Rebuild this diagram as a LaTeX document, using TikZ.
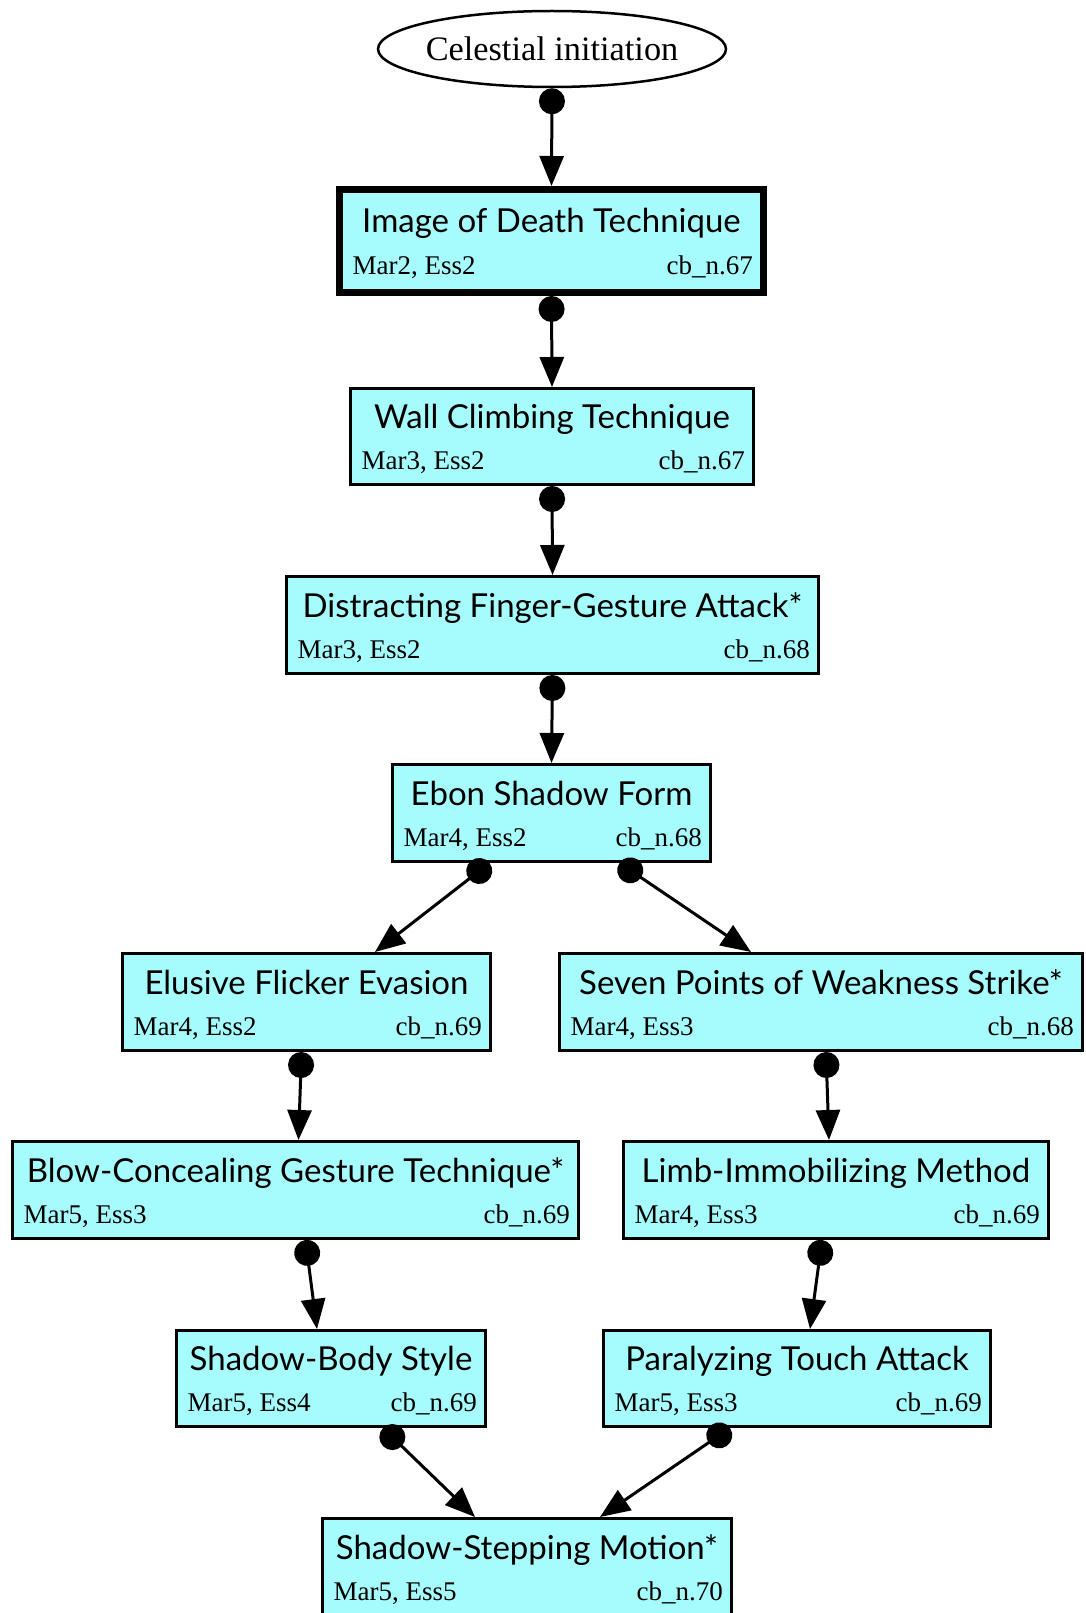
\documentclass[tikz,border=0pt]{standalone}
\usepackage{fontspec}
\setmainfont{Liberation Serif}
\newfontfamily\titlefont{Lato}
\usetikzlibrary{arrows.meta,shapes.geometric}
\definecolor{boxfill}{RGB}{166,252,252}

\tikzset{
  techframe/.style={draw=black, fill=boxfill, rectangle, inner sep=0pt},
  titletext/.style={inner sep=0pt, font=\titlefont\fontsize{33}{37}\selectfont},
  subtext/.style={inner sep=0pt, font=\fontsize{27}{31}\selectfont},
  starttext/.style={draw=black, line width=2.5pt, ellipse, inner xsep=-60pt,
    inner ysep=0pt, minimum width=348pt, minimum height=76pt,
    font=\fontsize{34.3}{39}\selectfont},
  link/.style={line width=3pt,
    {Circle[length=26pt]}-{Triangle[length=30pt,width=24pt]}}
}

% #1 border width, #2 name, #3-#6 corners (x1,y1,x2,y2), #7 title, #8 left, #9 right
\newcommand{\techbox}[9]{%
  \node[techframe, line width=#1pt,
        minimum width={(#5-#3-#1)*1pt}, minimum height={(#6-#4-#1)*1pt}]
        (#2) at ({(#3+#5)/2},{(#4+#6)/2}) {};
  \node[titletext, anchor=base] (#2-t) at ({(#3+#5)/2},{(#4+#6)/2-8}) {#7};
  \node[subtext, anchor=base west] (#2-l) at ({#3+9.5+#1},{(#4+#6)/2+33}) {#8};
  \node[subtext, anchor=base east] (#2-r) at ({#5-7-#1},{(#4+#6)/2+33}) {#9};
}

\begin{document}
\begin{tikzpicture}[x=1pt,y=-1pt]
\useasboundingbox (0,0) rectangle (1086,1613);

\node[starttext] (init) at (552,49) {Celestial initiation};

\techbox{7}{img}{336}{186}{767}{296}{Image of Death Technique}{Mar2, Ess2}{cb\_n.67}
\techbox{3}{wall}{349}{387}{755}{486}{Wall Climbing Technique}{Mar3, Ess2}{cb\_n.67}
\techbox{3}{dist}{285}{575}{820}{675}{Distracting Finger-Gesture Attack*}{Mar3, Ess2}{cb\_n.68}
\techbox{3}{ebon}{391}{763}{712}{863}{Ebon Shadow Form}{Mar4, Ess2}{cb\_n.68}
\techbox{3}{elusive}{121}{952}{492}{1052}{Elusive Flicker Evasion}{Mar4, Ess2}{cb\_n.69}
\techbox{3}{seven}{558}{952}{1084}{1052}{Seven Points of Weakness Strike*}{Mar4, Ess3}{cb\_n.68}
\techbox{3}{blow}{11}{1140}{580}{1240}{Blow-Concealing Gesture Technique*}{Mar5, Ess3}{cb\_n.69}
\techbox{3}{limb}{622}{1140}{1050}{1240}{Limb-Immobilizing Method}{Mar4, Ess3}{cb\_n.69}
\techbox{3}{sbody}{175}{1329}{487}{1428}{Shadow-Body Style}{Mar5, Ess4}{cb\_n.69}
\techbox{3}{para}{602}{1329}{992}{1428}{Paralyzing Touch Attack}{Mar5, Ess3}{cb\_n.69}
\techbox{3}{step}{321}{1517}{733}{1617}{Shadow-Stepping Motion*}{Mar5, Ess5}{cb\_n.70}

\draw[link] (init.south) -- (img.north);
\draw[link] (img.south) -- (wall.north);
\draw[link] (wall.south) -- (dist.north);
\draw[link] (dist.south) -- (ebon.north);
\draw[link] ([xshift=-62pt]ebon.south) -- ([xshift=68.5pt]elusive.north);
\draw[link] ([xshift=68pt]ebon.south) -- ([xshift=-70pt]seven.north);
\draw[link] ([xshift=-5pt]elusive.south) -- ([xshift=3pt]blow.north);
\draw[link] ([xshift=5pt]seven.south) -- ([xshift=-7pt]limb.north);
\draw[link] ([xshift=10pt]blow.south) -- ([xshift=-14pt]sbody.north);
\draw[link] ([xshift=-14pt]limb.south) -- ([xshift=13pt]para.north);
\draw[link] ([xshift=52pt]sbody.south) -- ([xshift=-52pt]step.north);
\draw[link] ([xshift=-67pt]para.south) -- ([xshift=73pt]step.north);
\end{tikzpicture}
\end{document}
